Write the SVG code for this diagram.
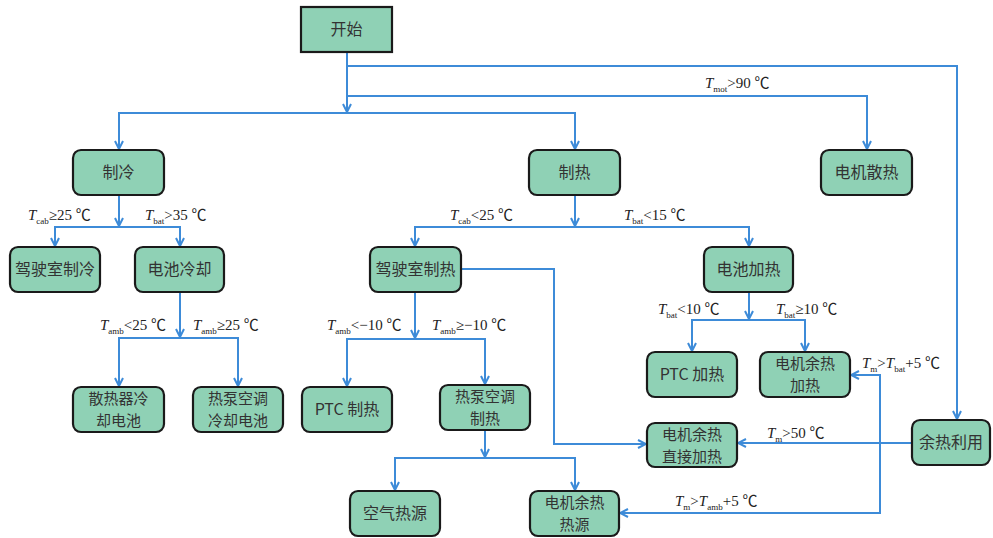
<svg xmlns="http://www.w3.org/2000/svg" width="993" height="538" viewBox="0 0 993 538">
<style>
.n{fill:#8FD1B5;stroke:#1a1a1a;stroke-width:2.2}
.t{font-family:"Noto Sans CJK SC","Liberation Serif",serif;font-size:16px;fill:#333;text-anchor:middle}
.t2{font-family:"Noto Sans CJK SC","Liberation Serif",serif;font-size:15px;fill:#333;text-anchor:middle}
.l{font-family:"Liberation Serif","Noto Sans CJK SC",serif;font-size:15px;fill:#222}
.s{font-size:9px}
.c path{fill:none;stroke:#3D8BD8;stroke-width:2}
.c .a{marker-end:url(#ar)}
</style>
<defs>
<marker id="ar" viewBox="0 0 10 10" refX="9" refY="5" markerWidth="10" markerHeight="10" markerUnits="userSpaceOnUse" orient="auto">
<path d="M1,1 L9,5 L1,9" fill="none" stroke="#3D8BD8" stroke-width="2"/>
</marker>
</defs>
<rect width="993" height="538" fill="#fff"/>
<g class="c" id="connectors">
<path class="a" d="M347,52 V112"/>
<path class="a" d="M347,66 H957 V419"/>
<path class="a" d="M347,96 H867 V149"/>
<path class="a" d="M347,113 H119 V149"/>
<path class="a" d="M347,113 H575 V149"/>
<path class="a" d="M119,195 V226"/>
<path class="a" d="M119,227 H55 V246"/>
<path class="a" d="M119,227 H180 V246"/>
<path class="a" d="M180,292 V337"/>
<path class="a" d="M180,338 H119 V386"/>
<path class="a" d="M180,338 H238 V386"/>
<path class="a" d="M575,195 V226"/>
<path class="a" d="M575,227 H415 V246"/>
<path class="a" d="M575,227 H749 V246"/>
<path class="a" d="M415,292 V338"/>
<path class="a" d="M415,339 H347 V386"/>
<path class="a" d="M415,339 H485 V384"/>
<path class="a" d="M461,269 H554 V444 H646"/>
<path class="a" d="M485,430 V457"/>
<path class="a" d="M485,458 H395 V490"/>
<path class="a" d="M485,458 H575 V490"/>
<path class="a" d="M749,292 V319"/>
<path class="a" d="M749,320 H692 V351"/>
<path class="a" d="M749,320 H805 V351"/>
<path class="a" d="M912,443 H738"/>
<path class="a" d="M880,443 V375 H851"/>
<path class="a" d="M880,443 V513 H620"/>
</g>
<g id="labels">
<text class="l" x="705" y="88"><tspan font-style="italic">T</tspan><tspan class="s" dy="4">mot</tspan><tspan dy="-4">&gt;90 ℃</tspan></text>
<text class="l" x="28" y="220"><tspan font-style="italic">T</tspan><tspan class="s" dy="4">cab</tspan><tspan dy="-4">≥25 ℃</tspan></text>
<text class="l" x="145" y="220"><tspan font-style="italic">T</tspan><tspan class="s" dy="4">bat</tspan><tspan dy="-4">&gt;35 ℃</tspan></text>
<text class="l" x="100" y="330"><tspan font-style="italic">T</tspan><tspan class="s" dy="4">amb</tspan><tspan dy="-4">&lt;25 ℃</tspan></text>
<text class="l" x="193" y="330"><tspan font-style="italic">T</tspan><tspan class="s" dy="4">amb</tspan><tspan dy="-4">≥25 ℃</tspan></text>
<text class="l" x="450" y="220"><tspan font-style="italic">T</tspan><tspan class="s" dy="4">cab</tspan><tspan dy="-4">&lt;25 ℃</tspan></text>
<text class="l" x="624" y="220"><tspan font-style="italic">T</tspan><tspan class="s" dy="4">bat</tspan><tspan dy="-4">&lt;15 ℃</tspan></text>
<text class="l" x="327" y="330"><tspan font-style="italic">T</tspan><tspan class="s" dy="4">amb</tspan><tspan dy="-4">&lt;−10 ℃</tspan></text>
<text class="l" x="432" y="330"><tspan font-style="italic">T</tspan><tspan class="s" dy="4">amb</tspan><tspan dy="-4">≥−10 ℃</tspan></text>
<text class="l" x="658" y="314"><tspan font-style="italic">T</tspan><tspan class="s" dy="4">bat</tspan><tspan dy="-4">&lt;10 ℃</tspan></text>
<text class="l" x="776" y="314"><tspan font-style="italic">T</tspan><tspan class="s" dy="4">bat</tspan><tspan dy="-4">≥10 ℃</tspan></text>
<text class="l" x="862" y="368"><tspan font-style="italic">T</tspan><tspan class="s" dy="4">m</tspan><tspan dy="-4">&gt;</tspan><tspan font-style="italic">T</tspan><tspan class="s" dy="4">bat</tspan><tspan dy="-4">+5 ℃</tspan></text>
<text class="l" x="767" y="438"><tspan font-style="italic">T</tspan><tspan class="s" dy="4">m</tspan><tspan dy="-4">&gt;50 ℃</tspan></text>
<text class="l" x="675" y="506"><tspan font-style="italic">T</tspan><tspan class="s" dy="4">m</tspan><tspan dy="-4">&gt;</tspan><tspan font-style="italic">T</tspan><tspan class="s" dy="4">amb</tspan><tspan dy="-4">+5 ℃</tspan></text>
</g>
<g id="start"><rect class="n" x="301" y="7" width="91" height="45"/><text class="t" x="346.5" y="35">开始</text></g>
<g id="cool"><rect class="n" x="73" y="150" width="91" height="45" rx="8"/><text class="t" x="118.5" y="178">制冷</text></g>
<g id="heat"><rect class="n" x="529" y="150" width="91" height="45" rx="8"/><text class="t" x="574.5" y="178">制热</text></g>
<g id="motorcool"><rect class="n" x="821" y="150" width="91" height="45" rx="8"/><text class="t" x="866.5" y="178">电机散热</text></g>
<g id="cabcool"><rect class="n" x="10" y="247" width="90" height="45" rx="8"/><text class="t" x="55" y="275">驾驶室制冷</text></g>
<g id="batcool"><rect class="n" x="135" y="247" width="89" height="45" rx="8"/><text class="t" x="179.5" y="275">电池冷却</text></g>
<g id="cabheat"><rect class="n" x="370" y="247" width="91" height="45" rx="8"/><text class="t" x="415.5" y="275">驾驶室制热</text></g>
<g id="batheat"><rect class="n" x="704" y="247" width="89" height="45" rx="8"/><text class="t" x="748.5" y="275">电池加热</text></g>
<g id="radcool"><rect class="n" x="73" y="387" width="91" height="45" rx="8"/><text class="t2" x="118.5" y="404">散热器冷</text><text class="t2" x="118.5" y="426">却电池</text></g>
<g id="hpcool"><rect class="n" x="193" y="387" width="90" height="45" rx="8"/><text class="t2" x="238" y="404">热泵空调</text><text class="t2" x="238" y="426">冷却电池</text></g>
<g id="ptcheat"><rect class="n" x="302" y="387" width="90" height="45" rx="8"/><text class="t" x="347" y="415">PTC 制热</text></g>
<g id="hpheat"><rect class="n" x="440" y="385" width="90" height="45" rx="8"/><text class="t2" x="485" y="402">热泵空调</text><text class="t2" x="485" y="424">制热</text></g>
<g id="ptcbat"><rect class="n" x="647" y="352" width="90" height="45" rx="8"/><text class="t" x="692" y="380">PTC 加热</text></g>
<g id="motorbat"><rect class="n" x="760" y="352" width="90" height="45" rx="8"/><text class="t2" x="805" y="369">电机余热</text><text class="t2" x="805" y="391">加热</text></g>
<g id="direct"><rect class="n" x="647" y="423" width="90" height="44" rx="8"/><text class="t2" x="692" y="440">电机余热</text><text class="t2" x="692" y="462">直接加热</text></g>
<g id="waste"><rect class="n" x="912" y="420" width="78" height="45" rx="8"/><text class="t" x="951" y="448">余热利用</text></g>
<g id="air"><rect class="n" x="350" y="491" width="90" height="45" rx="8"/><text class="t" x="395" y="519">空气热源</text></g>
<g id="motorsrc"><rect class="n" x="530" y="491" width="89" height="45" rx="8"/><text class="t2" x="574.5" y="508">电机余热</text><text class="t2" x="574.5" y="530">热源</text></g>
</svg>
